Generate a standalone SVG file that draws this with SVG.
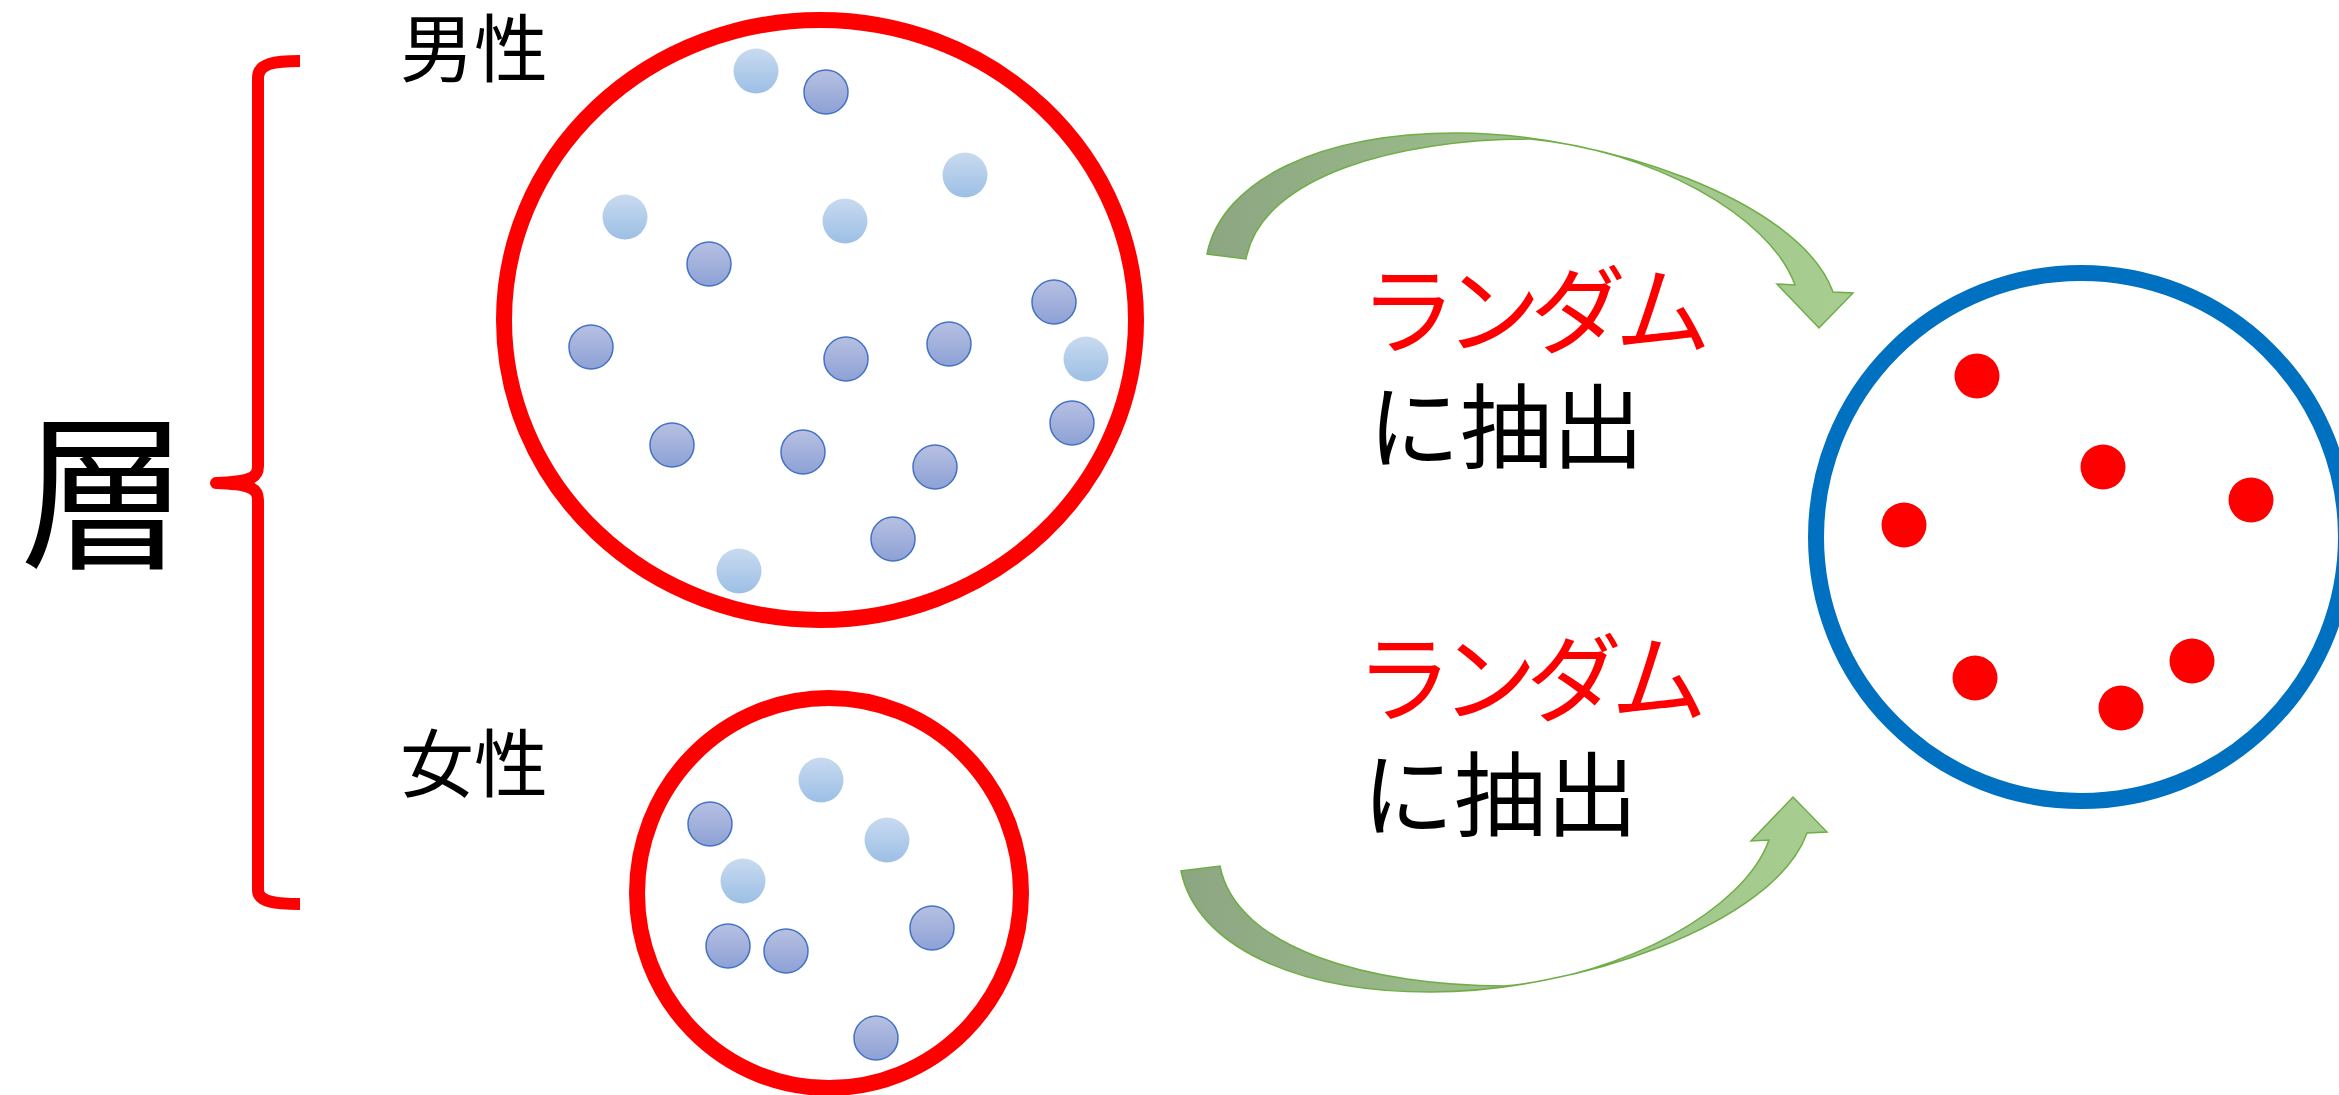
<svg xmlns="http://www.w3.org/2000/svg" width="2339" height="1095" viewBox="0 0 2339 1095">
<defs>
<linearGradient id="gLight" x1="0" y1="0" x2="0" y2="1">
<stop offset="0" stop-color="#C9DAF0"/><stop offset="1" stop-color="#9CBFE5"/>
</linearGradient>
<linearGradient id="gDark" x1="0" y1="0" x2="0" y2="1">
<stop offset="0" stop-color="#B7C0E2"/><stop offset="1" stop-color="#8DA1D5"/>
</linearGradient>
<linearGradient id="gArrow" x1="0" y1="0" x2="1" y2="0">
<stop offset="0" stop-color="#8CA682"/><stop offset="0.55" stop-color="#A0C38D"/><stop offset="1" stop-color="#A7CD90"/>
</linearGradient>
<path id="arrowShape" d="M1207,254 C1222,180 1320,133 1457,133 C1600,133 1800,200 1833,292 L1853,293 L1819,328 L1777,284 L1795,285 C1770,215 1650,150 1530,139 C1400,139 1262,175 1246,259 Z"/>
</defs>
<style>
.jp{font-family:"Noto Sans CJK JP","Noto Sans CJK SC",sans-serif;}
.ring{fill:none;stroke-width:16;}
.red{stroke:#FF0000;}
.blue{stroke:#0070C0;}
.light{fill:url(#gLight);}
.dark{fill:url(#gDark);stroke:#4472C4;stroke-width:1.5;}
.pick{fill:#FF0000;}
.arrow{fill:url(#gArrow);stroke:#70AD47;stroke-width:1.5;}
.kana{font-size:96px;letter-spacing:-11px;fill:#FF0000;}
.kanji{font-size:92px;fill:#000000;}
</style>
<rect width="2339" height="1095" fill="#FFFFFF"/>

<g id="layer-label">
<text class="jp" x="20" y="556" font-size="168" fill="#000">層</text>
</g>

<g id="brace">
<path d="M300,61 C275,61 258,63 258,78 L258,466 C258,478 250,482 216,483 C250,484 258,488 258,500 L258,890 C258,902 275,904 300,904" fill="none" stroke="#FF0000" stroke-width="12" stroke-linejoin="round" stroke-linecap="butt"/>
</g>

<g id="male-label">
<text class="jp" x="400" y="76" font-size="74" fill="#000">男性</text>
</g>

<g id="male-group">
<ellipse class="ring red" cx="820" cy="320" rx="316" ry="300"/>
<circle class="light" cx="756" cy="71" r="22.5"/>
<circle class="light" cx="965" cy="175" r="22.5"/>
<circle class="light" cx="625" cy="217" r="22.5"/>
<circle class="light" cx="845" cy="221" r="22.5"/>
<circle class="light" cx="1086" cy="359" r="22.5"/>
<circle class="light" cx="739" cy="571" r="22.5"/>
<circle class="dark" cx="826" cy="92" r="22"/>
<circle class="dark" cx="709" cy="264" r="22"/>
<circle class="dark" cx="1054" cy="302" r="22"/>
<circle class="dark" cx="591" cy="347" r="22"/>
<circle class="dark" cx="846" cy="359" r="22"/>
<circle class="dark" cx="949" cy="344" r="22"/>
<circle class="dark" cx="672" cy="445" r="22"/>
<circle class="dark" cx="803" cy="452" r="22"/>
<circle class="dark" cx="935" cy="467" r="22"/>
<circle class="dark" cx="1072" cy="423" r="22"/>
<circle class="dark" cx="893" cy="539" r="22"/>
</g>

<g id="female-label">
<text class="jp" x="400" y="791" font-size="74" fill="#000">女性</text>
</g>

<g id="female-group">
<ellipse class="ring red" cx="829" cy="893" rx="192" ry="195"/>
<circle class="light" cx="821" cy="780" r="22.5"/>
<circle class="light" cx="887" cy="840" r="22.5"/>
<circle class="light" cx="743" cy="881" r="22.5"/>
<circle class="dark" cx="710" cy="824" r="22"/>
<circle class="dark" cx="728" cy="946" r="22"/>
<circle class="dark" cx="786" cy="951" r="22"/>
<circle class="dark" cx="932" cy="928" r="22"/>
<circle class="dark" cx="876" cy="1038" r="22"/>
</g>

<g id="sample-group">
<ellipse class="ring blue" cx="2081" cy="537" rx="265" ry="264"/>
<circle class="pick" cx="1977" cy="376" r="22.5"/>
<circle class="pick" cx="2103" cy="467" r="22.5"/>
<circle class="pick" cx="2251" cy="500" r="22.5"/>
<circle class="pick" cx="1904" cy="525" r="22.5"/>
<circle class="pick" cx="1975" cy="678" r="22.5"/>
<circle class="pick" cx="2192" cy="661" r="22.5"/>
<circle class="pick" cx="2121" cy="708" r="22.5"/>
</g>

<g id="connectors">
<use href="#arrowShape" class="arrow"/>
<use href="#arrowShape" class="arrow" transform="translate(-26,1125) scale(1,-1)"/>
</g>

<g id="label-top">
<text class="jp kana" x="1360" y="346">ランダム</text>
<text class="jp kanji" x="1368" y="461">に抽出</text>
</g>

<g id="label-bottom">
<text class="jp kana" x="1356" y="714">ランダム</text>
<text class="jp kanji" x="1362" y="829">に抽出</text>
</g>
</svg>
